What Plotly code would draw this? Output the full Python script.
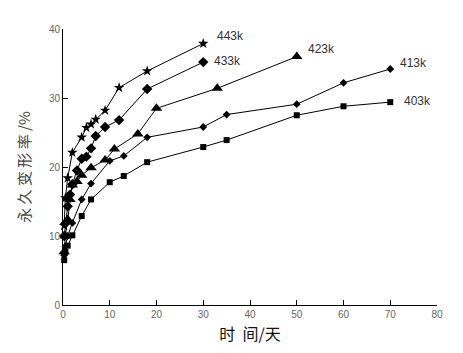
import plotly.graph_objects as go

# Data (days, permanent deformation %)
x_443 = [0.25, 0.5, 1, 2, 4, 5, 6, 7, 9, 12, 18, 30]
y_443 = [11.5, 15.5, 18.4, 22.1, 24.3, 25.7, 26.2, 26.9, 28.2, 31.5, 33.9, 37.9]

x_433 = [0.25, 0.5, 1, 1.5, 2, 3, 4, 5, 6, 7, 9, 12, 18, 30]
y_433 = [10.0, 11.8, 14.3, 16.0, 17.5, 19.5, 21.2, 21.5, 22.7, 24.5, 25.8, 26.8, 31.3, 35.2]

x_423 = [0.25, 0.5, 1, 1.5, 2, 3, 4, 6, 9, 11, 16, 20, 33, 50]
y_423 = [7.7, 10.0, 12.4, 15.3, 17.4, 17.9, 18.8, 19.9, 21.0, 22.6, 24.8, 28.5, 31.4, 36.0]

x_413 = [0.25, 0.5, 1, 2, 4, 6, 10, 13, 18, 30, 35, 50, 60, 70]
y_413 = [7.2, 8.5, 10.0, 11.9, 15.3, 17.6, 20.9, 21.6, 24.3, 25.8, 27.6, 29.1, 32.2, 34.2]

x_403 = [0.25, 0.5, 1, 2, 4, 6, 10, 13, 18, 30, 35, 50, 60, 70]
y_403 = [6.5, 7.7, 8.6, 10.1, 12.9, 15.3, 17.8, 18.7, 20.7, 22.9, 23.9, 27.5, 28.8, 29.4]

series_names = ["443k", "433k", "423k", "413k", "403k"]
label_x = [32.5, 31.9, 52.0, 71.7, 72.5]
label_y = [39.0, 35.4, 37.1, 35.1, 29.5]

x_ticks = [0, 10, 20, 30, 40, 50, 60, 70, 80]
y_ticks = [0, 10, 20, 30, 40]

series = [
    (x_443, y_443, "star", 8),
    (x_433, y_433, "diamond", 8),
    (x_423, y_423, "triangle-up", 10),
    (x_413, y_413, "diamond", 6),
    (x_403, y_403, "square", 6),
]

fig = go.Figure()
for (xs, ys, sym, sz), name in zip(series, series_names):
    fig.add_trace(go.Scatter(
        x=xs, y=ys, mode="lines+markers", name=name,
        line=dict(color="black", width=1),
        marker=dict(symbol=sym, size=sz, color="black"),
        showlegend=False, cliponaxis=False,
    ))

for name, lx, ly in zip(series_names, label_x, label_y):
    fig.add_annotation(x=lx, y=ly, text=name, showarrow=False,
                       xanchor="left", yanchor="middle",
                       font=dict(size=12, color="#333", family="Arial, Liberation Sans"))

fig.update_layout(
    width=463, height=353,
    margin=dict(l=63, r=26, t=29, b=48),
    plot_bgcolor="white", paper_bgcolor="white",
    font=dict(family="Arial, Liberation Sans, Noto Sans CJK SC", color="#555"),
)
fig.update_xaxes(
    range=[0, 80], tickvals=x_ticks, ticks="inside", ticklen=5, tickcolor="black",
    showline=True, linecolor="black", linewidth=1, showgrid=False, zeroline=False,
    tickfont=dict(size=10, color="#666"),
    title=dict(text="时  间/天", font=dict(size=16, color="#111", family="Noto Sans CJK SC"), standoff=9),
)
fig.update_yaxes(
    range=[0, 40], tickvals=y_ticks, ticks="inside", ticklen=5, tickcolor="black",
    showline=True, linecolor="black", linewidth=1, showgrid=False, zeroline=False,
    tickfont=dict(size=10, color="#666"),
    title=dict(text="永 久 变 形 率 /%", font=dict(size=15, color="#444", family="Noto Sans CJK SC"), standoff=14),
)

fig.write_html("out.html")
